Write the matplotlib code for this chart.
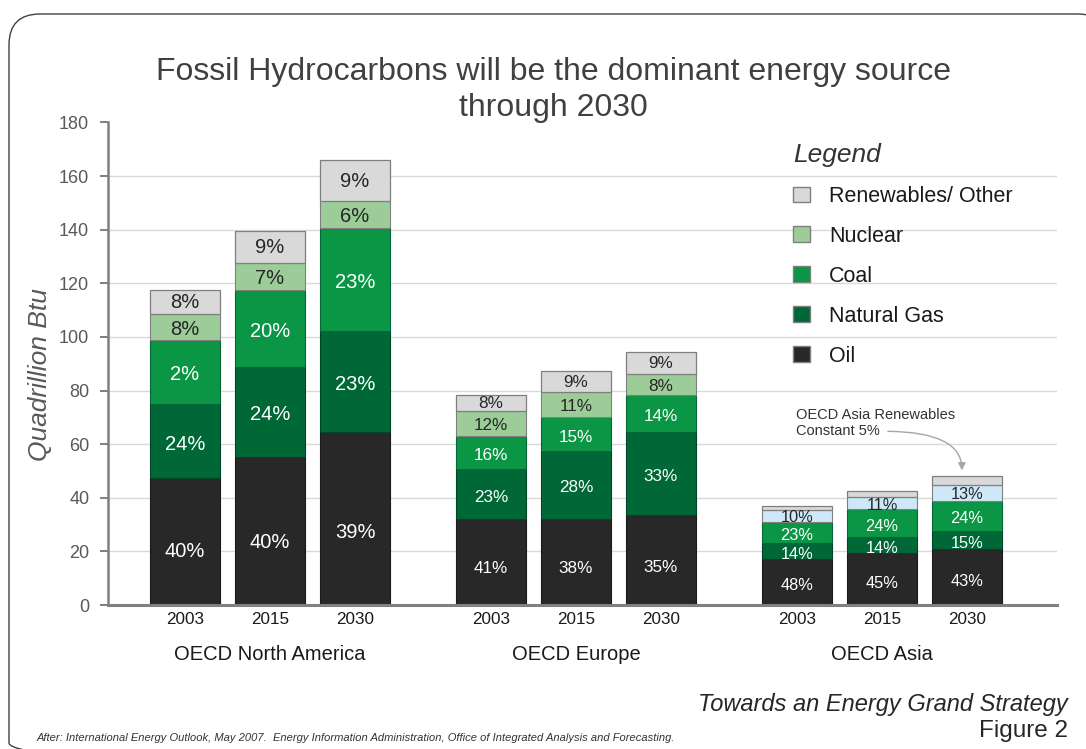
import matplotlib
matplotlib.use("Agg")
import matplotlib.pyplot as plt
from matplotlib.patches import FancyBboxPatch
import numpy as np

plt.rcParams['font.family'] = ['Liberation Sans', 'DejaVu Sans']

# ---------------- data ----------------
groups = ['OECD North America', 'OECD Europe', 'OECD Asia']
years = ['2003', '2015', '2030']

oil = [47.3, 55.3, 64.7, 32.1, 32.1, 33.6, 17.2, 19.3, 20.8]
gas = [27.7, 33.4, 37.7, 18.5, 25.4, 31.1, 5.8, 6.0, 6.8]
coal = [23.9, 28.8, 38.2, 12.6, 12.5, 13.5, 8.1, 10.4, 11.3]
nuclear = [9.6, 10.2, 10.3, 9.3, 9.4, 8.0, 4.3, 4.5, 5.9]
renew = [9.0, 11.9, 15.1, 5.9, 8.0, 8.1, 1.5, 2.4, 3.4]

oil_lbl = ['40%', '40%', '39%', '41%', '38%', '35%', '48%', '45%', '43%']
gas_lbl = ['24%', '24%', '23%', '23%', '28%', '33%', '14%', '14%', '15%']
coal_lbl = ['2%', '20%', '23%', '16%', '15%', '14%', '23%', '24%', '24%']
nuc_lbl = ['8%', '7%', '6%', '12%', '11%', '8%', '10%', '11%', '13%']
ren_lbl = ['8%', '9%', '9%', '8%', '9%', '9%', '', '', '']

series_names = ['Oil', 'Natural Gas', 'Coal', 'Nuclear', 'Renewables/ Other']

title = 'Fossil Hydrocarbons will be the dominant energy source\nthrough 2030'
ylabel = 'Quadrillion Btu'
note = 'OECD Asia Renewables\nConstant 5%'
subtitle1 = 'Towards an Energy Grand Strategy'
subtitle2 = 'Figure 2'
source = ('After: International Energy Outlook, May 2007.  Energy Information '
          'Administration, Office of Integrated Analysis and Forecasting.')

# ---------------- style ----------------
C_OIL = '#282828'
C_GAS = '#006837'
C_COAL = '#0b9645'
C_NUC = '#9ccd98'
C_NUC_ASIA = '#cfe8f8'
C_REN = '#d9d9d9'
label_sizes = [14.5, 12.3, 11.8]

W, H = 1086, 749
fig = plt.figure(figsize=(W / 100, H / 100), dpi=100)

# background overlay (pixel coordinates)
bg = fig.add_axes([0, 0, 1, 1])
bg.set_xlim(0, W)
bg.set_ylim(H, 0)
bg.axis('off')
border = FancyBboxPatch((9, 14), 1100, 760,
                        boxstyle='round,pad=0,rounding_size=31',
                        fc='none', ec='#404040', lw=1.0)
bg.add_patch(border)

# main axes
ax_left, ax_right, ax_bottom, ax_top = 108, 1057, 605, 122.5
ax = fig.add_axes([ax_left / W, 1 - ax_bottom / H,
                   (ax_right - ax_left) / W, (ax_bottom - ax_top) / H])
ax.patch.set_visible(False)

n_groups = len(groups)
n_years = len(years)
step_group = 3.6
x = np.array([g * step_group + i for g in range(n_groups) for i in range(n_years)])
grp = np.array([g for g in range(n_groups) for i in range(n_years)])
bw = 0.82

oil_a = np.array(oil)
gas_a = np.array(gas)
coal_a = np.array(coal)
nuc_a = np.array(nuclear)
ren_a = np.array(renew)

b_gas = oil_a
b_coal = oil_a + gas_a
b_nuc = b_coal + coal_a
b_ren = b_nuc + nuc_a
totals = b_ren + ren_a

nuc_colors = [C_NUC_ASIA if g == 2 else C_NUC for g in grp]

h_oil = ax.bar(x, oil_a, bw, color=C_OIL, edgecolor='#1a1a1a', lw=0.8, label=series_names[0], zorder=3)
h_gas = ax.bar(x, gas_a, bw, bottom=b_gas, color=C_GAS, edgecolor='#004526', lw=0.8, label=series_names[1], zorder=3)
h_coal = ax.bar(x, coal_a, bw, bottom=b_coal, color=C_COAL, edgecolor='#05663a', lw=0.8, label=series_names[2], zorder=3)
h_nuc = ax.bar(x, nuc_a, bw, bottom=b_nuc, color=nuc_colors, edgecolor='#7f7f7f', lw=0.8, label=series_names[3], zorder=3)
h_ren = ax.bar(x, ren_a, bw, bottom=b_ren, color=C_REN, edgecolor='#7f7f7f', lw=0.9, label=series_names[4], zorder=3)

px_per_unit = (ax_bottom - ax_top) / 180.0
shift = 3.0 / px_per_unit  # labels sit slightly below segment centre

for k in range(len(x)):
    fs = label_sizes[grp[k]]
    ax.text(x[k], oil_a[k] * 0.42, oil_lbl[k], ha='center', va='center', color='white', fontsize=fs, zorder=4)
    ax.text(x[k], b_gas[k] + gas_a[k] / 2 - shift, gas_lbl[k], ha='center', va='center', color='white', fontsize=fs, zorder=4)
    ax.text(x[k], b_coal[k] + coal_a[k] / 2 - shift, coal_lbl[k], ha='center', va='center', color='white', fontsize=fs, zorder=4)
    ax.text(x[k], b_nuc[k] + nuc_a[k] / 2 - shift * 0.7, nuc_lbl[k], ha='center', va='center', color='#262626', fontsize=fs, zorder=4)
    if ren_lbl[k]:
        ax.text(x[k], b_ren[k] + ren_a[k] / 2 - shift * 0.3, ren_lbl[k], ha='center', va='center', color='#262626', fontsize=fs, zorder=4)

# axes limits & ticks
x0_px = 185.0
unit_px = 85.0
ax.set_xlim((ax_left - x0_px) / unit_px, (ax_right - x0_px) / unit_px)
ax.set_ylim(0, 180)
ax.set_yticks(np.arange(0, 181, 20))
ax.tick_params(axis='y', length=6, width=1.4, color='#7f7f7f', labelsize=13,
               labelcolor='#595959', pad=7.5)
ax.set_xticks(x)
ax.set_xticklabels(years * n_groups)
ax.tick_params(axis='x', length=0, labelsize=12.3, labelcolor='#1a1a1a', pad=5)

ax.grid(axis='y', color='#d9d9d9', lw=1.0, zorder=0)
ax.set_axisbelow(True)
gl = ax.yaxis.get_gridlines()
gl[-1].set_visible(False)
gl[0].set_visible(False)

for s in ['top', 'right']:
    ax.spines[s].set_visible(False)
ax.spines['left'].set_color('#7f7f7f')
ax.spines['left'].set_linewidth(1.8)
ax.spines['bottom'].set_color('#808080')
ax.spines['bottom'].set_linewidth(2.2)
ax.spines['bottom'].set_zorder(5)

ax.set_ylabel(ylabel, fontsize=19, style='italic', color='#595959')
ax.yaxis.set_label_coords((40 - ax_left) / (ax_right - ax_left), (ax_bottom - 375) / (ax_bottom - ax_top))
ax.yaxis.label.set_verticalalignment('center')

# group labels
for g, name in enumerate(groups):
    ax.text(g * step_group + 1, -(655 - ax_bottom) / (ax_bottom - ax_top), name,
            transform=ax.get_xaxis_transform(), ha='center', va='center',
            fontsize=14.5, color='#1a1a1a')

# title
fig.suptitle(title, x=553 / W, y=1 - 90 / H, va='center', fontsize=23,
             color='#404040', linespacing=1.28)

# legend
handles = [h_ren, h_nuc, h_coal, h_gas, h_oil]
labels = [series_names[4], series_names[3], series_names[2], series_names[1], series_names[0]]
leg = ax.legend(handles, labels, loc='upper left', bbox_to_anchor=(793 / W, 1 - 143 / H),
                bbox_transform=fig.transFigure, frameon=False, fontsize=15.5,
                title='Legend', title_fontproperties={'size': 19, 'style': 'italic'},
                alignment='left', handlelength=0.79, handleheight=0.75,
                handletextpad=0.88, labelspacing=0.88, borderpad=0, borderaxespad=0)
leg.get_title().set_color('#333333')
for t in leg.get_texts():
    t.set_color('#1a1a1a')
for p in leg.get_patches():
    p.set_edgecolor('#7f7f7f')
    p.set_linewidth(1.0)

# annotation
a_idx = len(x) - 1
ax.annotate(note, xy=(x[a_idx] - 0.06, totals[a_idx] + 2.0),
            xytext=((796 - x0_px) / unit_px, (ax_bottom - 423) / px_per_unit),
            ha='left', va='center', fontsize=10.5, color='#333333', linespacing=1.15,
            arrowprops=dict(arrowstyle='-|>', color='#a6a6a6', lw=1.0,
                            mutation_scale=11, shrinkA=2, shrinkB=0, patchA=None,
                            relpos=(0.56, 0.22),
                            connectionstyle='angle3,angleA=0,angleB=90'),
            zorder=6)

# footer
bg.text(1068, 704, subtitle1, ha='right', va='center', fontsize=17, style='italic', color='#262626')
bg.text(1068, 731, subtitle2, ha='right', va='center', fontsize=17.5, color='#262626')
bg.text(37, 738, source, ha='left', va='center', fontsize=8, style='italic', color='#333333')

fig.savefig('out.png', dpi=100)
